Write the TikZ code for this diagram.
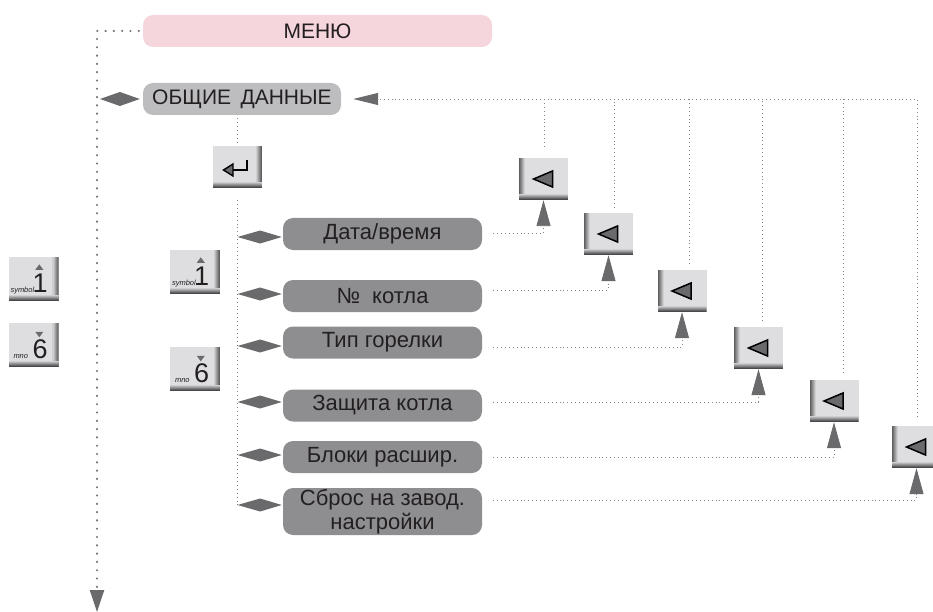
\documentclass[tikz,border=0pt]{standalone}
\usepackage{fontspec}
\setmainfont{Liberation Sans}
\usetikzlibrary{arrows.meta,calc}
\definecolor{pinkbox}{HTML}{F5D6DC}
\definecolor{lightbox}{HTML}{BDBDC0}
\definecolor{itembox}{HTML}{8E8E91}
\definecolor{arrowgray}{HTML}{6A6A6D}
\definecolor{dotgray}{HTML}{858587}
\definecolor{bigdotgray}{HTML}{727274}
\definecolor{btnface}{HTML}{DEDEE0}
\definecolor{btndark}{HTML}{48484A}
\definecolor{txt}{HTML}{231F20}
\newcommand\myShadeLeft{\foreach \i in {0,...,5}{\pgfmathtruncatemacro\p{85-\i*15}\fill[btndark!\p!btnface] ($(path picture bounding box.south west)+(\i,0)$) rectangle ($(path picture bounding box.north west)+(\i+1.2,0)$);}}
\newcommand\myShadeRight{\foreach \i in {0,...,5}{\pgfmathtruncatemacro\p{85-\i*15}\fill[btndark!\p!btnface] ($(path picture bounding box.south east)+(-\i,0)$) rectangle ($(path picture bounding box.north east)+(-\i-1.2,0)$);}}
\newcommand\myShadeBottom{\foreach \i in {0,...,5}{\pgfmathtruncatemacro\p{100-\i*18}\fill[btndark!\p!btnface] ($(path picture bounding box.south west)+(0,-\i)$) rectangle ($(path picture bounding box.south east)+(0,-\i-1.2)$);}}
\begin{document}
\begin{tikzpicture}[x=1pt,y=-1pt,
  lbl/.style={text=txt, inner sep=0pt, rounded corners=10pt, align=center},
  menubox/.style={lbl, font=\fontsize{21}{23}\selectfont, fill=pinkbox, minimum width=349pt, minimum height=32pt},
  headbox/.style={lbl, font=\fontsize{21}{23}\selectfont, fill=lightbox, minimum width=198pt, minimum height=32pt},
  itemnode/.style={lbl, font=\fontsize{22}{23.5}\selectfont, fill=itembox, minimum width=199pt, minimum height=32pt},
  btnbase/.style={minimum width=49pt, minimum height=42pt, inner sep=0pt, fill=btnface},
  tribtn/.style={btnbase, path picture={
    \myShadeLeft \myShadeBottom
    \filldraw[draw=black, fill=arrowgray, line width=1.5pt, line join=miter]
      ([xshift=-10pt]path picture bounding box.center) -- ([xshift=9pt,yshift=8pt]path picture bounding box.center) -- ([xshift=9pt,yshift=-8pt]path picture bounding box.center) -- cycle;
  }},
  keybtn/.style={btnbase, path picture={\myShadeRight \myShadeBottom}},
  finedot/.style={draw=dotgray, line width=0.9pt, dash pattern=on 0.9pt off 3pt},
  bigdot/.style={draw=bigdotgray, line width=2.4pt, line cap=round, dash pattern=on 0pt off 8.3pt},
  bigtip/.style={-{Triangle[width=14pt,length=26pt,color=arrowgray,fill=arrowgray]}},
  smalltxt/.style={font=\fontsize{7.5}{8}\selectfont\itshape, text=txt, inner sep=0pt, anchor=base west},
  digit/.style={font=\fontsize{27}{27}\selectfont, text=txt, inner sep=0pt, anchor=base west},
]
\useasboundingbox (0,0) rectangle (933,612);

% nodes
\node[menubox] (menu) at (317.5,31) {МЕНЮ};
\node[headbox] (ob) at (242,99) {ОБЩИЕ\hspace{0.45em}ДАННЫЕ};
\node[keybtn] (ent) at (237.5,167) {};

\node[itemnode] (d1) at (382.5,234) {Дата/время};
\node[itemnode] (d2) at (382.5,296) {№\hspace{0.55em}котла};
\node[itemnode] (d3) at (382.5,342.5) {Тип горелки};
\node[itemnode] (d4) at (382.5,405.5) {Защита котла};
\node[itemnode] (d5) at (382.5,457) {Блоки расшир.};
\node[itemnode, minimum height=47pt] (d6) at (382.5,511.5) {Сброс на завод.\\настройки};

\node[tribtn] (b1) at (543.5,179) {};
\node[tribtn] (b2) at (608.5,234) {};
\node[tribtn] (b3) at (682,291) {};
\node[tribtn] (b4) at (758.5,348) {};
\node[tribtn] (b5) at (834,401) {};
\node[tribtn] (b6) at (916.5,447) {};

\node[keybtn, minimum width=50pt, minimum height=44pt] (ka1) at (33.5,279) {};
\node[keybtn, minimum width=50pt, minimum height=44pt] (ka6) at (33.5,345) {};
\node[keybtn, minimum width=50pt, minimum height=44pt] (kb1) at (195,272) {};
\node[keybtn, minimum width=50pt, minimum height=44pt] (kb6) at (195,369) {};

% key contents
\foreach \k in {ka1,kb1}{
  \node[smalltxt] at ($(\k.south west)+(2,-9)$) {symbol};
  \node[digit] at ($(\k.south west)+(24,-9)$) {1};
  \fill[arrowgray] ($(\k.north west)+(31,7.5)$) -- ($(\k.north west)+(35,13)$) -- ($(\k.north west)+(27,13)$) -- cycle;
}
\foreach \k in {ka6,kb6}{
  \node[smalltxt] at ($(\k.south west)+(5,-9)$) {mno};
  \node[digit] at ($(\k.south west)+(24,-9)$) {6};
  \fill[arrowgray] ($(\k.north west)+(31,14.5)$) -- ($(\k.north west)+(35,9)$) -- ($(\k.north west)+(27,9)$) -- cycle;
}

% enter symbol
\draw[black, line width=1.8pt] ($(ent.center)+(-4.5,3)$) -- ($(ent.center)+(9.5,3)$) -- ($(ent.center)+(9.5,-7)$);
\filldraw[fill=arrowgray, draw=black, line width=1.4pt, line join=miter] ($(ent.center)+(-14,3)$) -- ($(ent.center)+(-4.5,-3)$) -- ($(ent.center)+(-4.5,9)$) -- cycle;

% left big dotted line with arrow
\coordinate (lt) at (97,31);
\coordinate (lb) at (97,612);
\draw[bigdot, -{Triangle[width=14pt,length=22pt,color=arrowgray,fill=arrowgray]}] ([xshift=-4pt]menu.west) -- (lt) -- (lb);

% diamond left of OBSCHIE
\fill[arrowgray] ($(lt |- ob.west)+(3,0)$) -- ($(lt |- ob.west)!0.5!(ob.west)+(0,-7)$) -- ($(ob.west)+(-3,0)$) -- ($(lt |- ob.west)!0.5!(ob.west)+(0,7)$) -- cycle;

% vertical dotted lines under OBSCHIE and enter
\draw[finedot] ([yshift=-3pt]ent.north |- ob.south) -- ([yshift=1pt]ent.north);
\draw[finedot] ([yshift=-12pt]ent.south) -- ($(ent.south |- d6.west)+(0,-6.5)$);

% diamonds to items
\foreach \n/\dy in {d1/3,d2/-2,d3/3.5,d4/-3.5,d5/-2,d6/-6.5}{
  \fill[arrowgray] ($(ent.south |- \n.west)+(0,\dy)$) -- ($(ent.south |- \n.west)!0.5!(\n.west)+(0,\dy-6.5)$) -- ($(\n.west)+(-1,\dy)$) -- ($(ent.south |- \n.west)!0.5!(\n.west)+(0,\dy+6.5)$) -- cycle;
}

% item -> button connectors
\foreach \n/\b/\dy in {d1/b1/-1,d2/b2/-6,d3/b3/4.5,d4/b4/-3.5,d5/b5/0,d6/b6/-11.5}{
  \draw[finedot, bigtip] ($(\n.east)+(11,\dy)$) -| (\b.south);
}

% button tops -> OBSCHIE
\foreach \b/\dx/\gap in {b1/0.5/11,b2/5.5/5,b3/7/6,b4/3.5/6,b5/9/7}{
  \draw[finedot] ([xshift=\dx pt,yshift=\gap pt]\b.north) -- ([xshift=\dx pt]\b.north |- ob.east);
}
\draw[finedot, -{Triangle[width=12pt,length=25pt,color=arrowgray,fill=arrowgray]}] ([xshift=0.5pt,yshift=9pt]b6.north) |- ([xshift=12pt]ob.east);

\end{tikzpicture}
\end{document}
